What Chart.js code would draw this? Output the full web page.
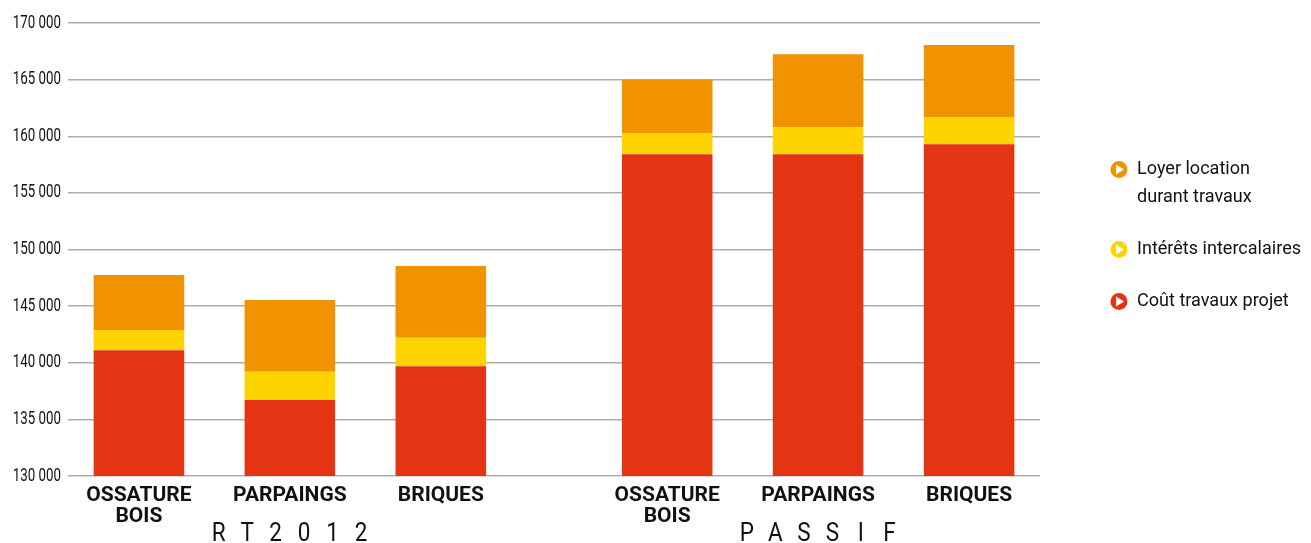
<!DOCTYPE html>
<html>
<head>
<meta charset="utf-8">
<script src="https://cdn.jsdelivr.net/npm/chart.js@4.4.1/dist/chart.umd.min.js"></script>
<style>
  html, body { margin: 0; padding: 0; background: #fff; }
</style>
</head>
<body>
<canvas id="myChart" width="1311" height="543"></canvas>
<script>
// ============  data ============ //
const categories = [['OSSATURE', 'BOIS'], 'PARPAINGS', 'BRIQUES', ['OSSATURE', 'BOIS'], 'PARPAINGS', 'BRIQUES'];
const groups = ['RT2012', 'PASSIF'];
const groupOf = [0, 0, 0, 1, 1, 1];

const coutTravaux = [141100, 136700, 139700, 158400, 158400, 159300];
const interets = [1800, 2500, 2500, 1850, 2400, 2400];
const loyer = [4850, 6350, 6350, 4750, 6450, 6350];

const yMin = 130000;
const yMax = 170000;
const yStep = 5000;

// ============  layout ============ //
const GROUP_GAP = 0.5; // extra space between the two groups
const pos = i => i + groupOf[i] * GROUP_GAP;
const xPos = categories.map((c, i) => pos(i));

const toPoints = arr => arr.map((v, i) => ({ x: pos(i), y: v }));

const fmt = v => String(v).replace(/\B(?=(\d{3})+(?!\d))/g, ' ');

// condensed-looking text: Roboto squeezed horizontally
function narrowText(ctx, text, x, y, sx) {
    ctx.save();
    ctx.translate(x, y);
    ctx.scale(sx, 1);
    ctx.fillText(text, 0, 0);
    ctx.restore();
}

// icon: coloured disc with a white "play" triangle
function drawIcon(ctx, x, y, color) {
    ctx.beginPath();
    ctx.arc(x, y, 8.5, 0, Math.PI * 2);
    ctx.fillStyle = color;
    ctx.fill();
    ctx.beginPath();
    ctx.moveTo(x - 3, y - 5);
    ctx.lineTo(x - 3, y + 5);
    ctx.lineTo(x + 5, y);
    ctx.closePath();
    ctx.fillStyle = '#fff';
    ctx.fill();
}

const yLabels = {
    id: 'yLabels',
    afterDraw(chart) {
        const ctx = chart.ctx;
        const ys = chart.scales.y;
        ctx.save();
        ctx.font = '18px Roboto';
        ctx.fillStyle = '#111';
        ctx.textAlign = 'right';
        ctx.textBaseline = 'middle';
        ys.ticks.forEach(t => narrowText(ctx, fmt(t.value), ys.right - 7, ys.getPixelForValue(t.value), 0.74));
        ctx.restore();
    }
};

const groupLabels = {
    id: 'groupLabels',
    afterDraw(chart) {
        const ctx = chart.ctx;
        const xs = chart.scales.x;
        ctx.save();
        ctx.font = '25px Roboto';
        ctx.fillStyle = '#111';
        ctx.textAlign = 'center';
        ctx.textBaseline = 'alphabetic';
        groups.forEach((g, gi) => {
            const idx = groupOf.map((v, i) => v === gi ? i : -1).filter(i => i >= 0);
            const cx = xs.getPixelForValue((pos(idx[0]) + pos(idx[idx.length - 1])) / 2);
            const chars = g.split('');
            chars.forEach((c, k) => narrowText(ctx, c, cx + (k - (chars.length - 1) / 2) * 28.5, 541, 0.9));
        });
        ctx.restore();
    }
};

const sideLegend = {
    id: 'sideLegend',
    afterDraw(chart) {
        const ctx = chart.ctx;
        const area = chart.chartArea;
        const iconX = area.right + 79;
        let y = (area.top + area.bottom) / 2 - 80;
        ctx.save();
        ctx.font = '19px Roboto';
        ctx.textAlign = 'left';
        ctx.textBaseline = 'middle';
        const ds = chart.data.datasets.slice().reverse();
        ds.forEach(d => {
            drawIcon(ctx, iconX, y, d.backgroundColor);
            const lines = Array.isArray(d.legendText) ? d.legendText : [d.legendText];
            ctx.fillStyle = '#111';
            lines.forEach((t, k) => narrowText(ctx, t, iconX + 18, y + k * 28, 0.95));
            y += 52 + (lines.length - 1) * 28;
        });
        ctx.restore();
    }
};

const ctx = document.getElementById('myChart').getContext('2d');

let myChart = new Chart(ctx, {
    type: 'bar',
    data: {
        datasets: [{
            label: 'Coût travaux projet',
            legendText: 'Coût travaux projet',
            data: toPoints(coutTravaux),
            backgroundColor: '#e53414'
        }, {
            label: 'Intérêts intercalaires',
            legendText: 'Intérêts intercalaires',
            data: toPoints(interets),
            backgroundColor: '#fed400'
        }, {
            label: 'Loyer location durant travaux',
            legendText: ['Loyer location', 'durant travaux'],
            data: toPoints(loyer),
            backgroundColor: '#f19200'
        }]
    },
    options: {
        responsive: false,
        animation: false,
        barPercentage: 0.6,
        categoryPercentage: 1,
        layout: { padding: { top: 23, right: 271, bottom: 0, left: 0 } },
        plugins: {
            legend: { display: false },
            tooltip: { enabled: false }
        },
        scales: {
            x: {
                type: 'linear',
                stacked: true,
                offset: false,
                min: xPos[0] - 0.47,
                max: xPos[xPos.length - 1] + 0.47,
                afterBuildTicks: axis => { axis.ticks = xPos.map(v => ({ value: v })); },
                afterFit: axis => { axis.height = 67; },
                grid: { display: false, drawTicks: false, offset: false },
                border: { display: false },
                ticks: {
                    autoSkip: false,
                    maxRotation: 0,
                    padding: 9,
                    color: '#111',
                    font: { family: 'Roboto', size: 21, weight: 'bold', lineHeight: 1.02 },
                    callback: (v, i) => categories[i]
                }
            },
            y: {
                stacked: true,
                min: yMin,
                max: yMax,
                afterFit: axis => { axis.width = 68; },
                grid: { color: '#adadad', lineWidth: 1.5, drawTicks: false },
                border: { display: false },
                ticks: {
                    stepSize: yStep,
                    display: false
                }
            }
        }
    },
    plugins: [yLabels, groupLabels, sideLegend]
});
</script>
</body>
</html>
